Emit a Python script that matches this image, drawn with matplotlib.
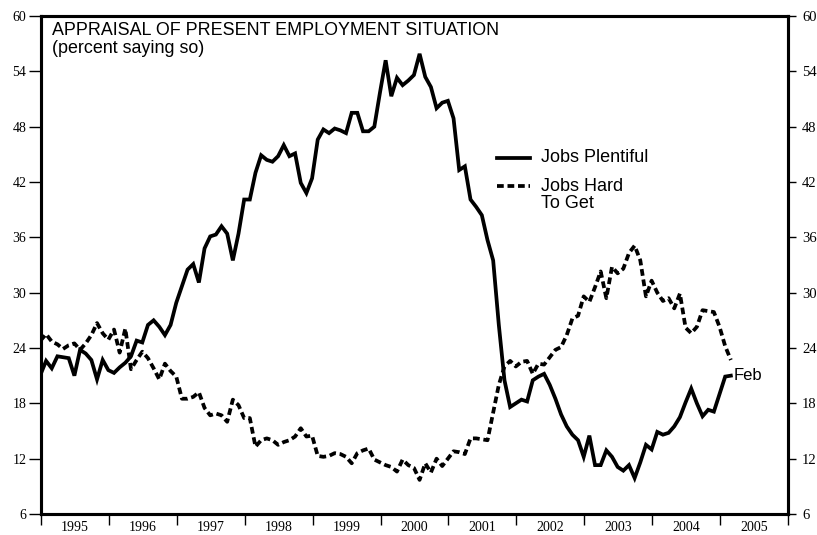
import numpy as np
import matplotlib.pyplot as plt

# monthly readings, Dec 1994 .. Feb 2005
jobs_plentiful = [
    21.1,
    22.6, 21.8, 23.1, 23.0, 22.9, 21.0, 23.8, 23.4, 22.7, 20.6, 22.7, 21.6,  # 1995
    21.3, 21.9, 22.4, 23.1, 24.8, 24.6, 26.5, 27.0, 26.3, 25.4, 26.5, 28.9,  # 1996
    30.7, 32.5, 33.1, 31.1, 34.8, 36.1, 36.3, 37.2, 36.4, 33.5, 36.4, 40.1,  # 1997
    40.1, 43.0, 44.9, 44.4, 44.2, 44.8, 46.0, 44.8, 45.1, 41.9, 40.8, 42.4,  # 1998
    46.6, 47.7, 47.3, 47.8, 47.6, 47.3, 49.5, 49.5, 47.5, 47.5, 48.0, 51.7,  # 1999
    55.2, 51.3, 53.3, 52.5, 53.0, 53.6, 55.9, 53.4, 52.3, 50.0, 50.6, 50.8,  # 2000
    48.9, 43.3, 43.7, 40.1, 39.3, 38.4, 35.7, 33.5, 26.5, 20.5, 17.6, 18.0,  # 2001
    18.4, 18.2, 20.5, 20.9, 21.2, 20.0, 18.5, 16.8, 15.5, 14.6, 14.0, 12.2,  # 2002
    14.5, 11.3, 11.3, 12.9, 12.2, 11.1, 10.7, 11.3, 9.9, 11.6, 13.5, 13.0,   # 2003
    14.9, 14.6, 14.8, 15.5, 16.5, 18.1, 19.6, 18.0, 16.6, 17.3, 17.1, 19.0,  # 2004
    20.9, 21.0,                                                              # 2005
]

jobs_hard = [
    24.8,
    25.5, 24.7, 24.4, 23.9, 24.3, 24.5, 23.8, 24.5, 25.4, 26.7, 25.6, 24.9,  # 1995
    26.0, 23.5, 26.1, 21.7, 22.7, 23.6, 22.9, 21.8, 20.6, 22.3, 21.5, 20.9,  # 1996
    18.5, 18.5, 18.7, 19.2, 17.5, 16.7, 16.9, 16.7, 16.0, 18.4, 17.8, 16.4,  # 1997
    16.4, 13.3, 14.0, 14.2, 14.0, 13.5, 13.8, 14.0, 14.4, 15.3, 14.4, 14.5,  # 1998
    12.3, 12.2, 12.3, 12.6, 12.5, 12.2, 11.5, 12.6, 12.9, 13.1, 11.9, 11.6,  # 1999
    11.3, 11.1, 10.6, 11.9, 11.3, 11.0, 9.7, 11.5, 10.5, 12.0, 11.2, 12.0,   # 2000
    12.8, 12.7, 12.5, 14.2, 14.2, 14.1, 14.0, 17.0, 20.0, 22.0, 22.6, 22.0,  # 2001
    22.5, 22.6, 21.2, 22.3, 22.2, 23.0, 23.8, 24.1, 25.4, 27.2, 27.5, 29.6,  # 2002
    29.0, 30.6, 32.3, 29.4, 32.8, 32.1, 32.6, 34.3, 35.1, 33.5, 29.6, 31.3,  # 2003
    30.0, 29.1, 29.4, 28.3, 29.9, 26.2, 25.6, 26.3, 28.1, 28.0, 27.9, 26.3,  # 2004
    24.2, 22.7,                                                              # 2005
]

year_labels = list(range(1995, 2006))
yticks = list(range(6, 61, 6))

# month index -1 = Dec 1994, points drawn near the end of each month
months = np.arange(-1, len(jobs_plentiful) - 1)
t = 1995 + (months + 0.9) / 12

serif = 'Liberation Serif'
sans = 'Liberation Sans'

fig = plt.figure(figsize=(8.17, 5.35), dpi=100)
ax = fig.add_axes([41 / 817, 21 / 535, 747 / 817, 498 / 535])

ax.plot(t, jobs_plentiful, color='black', lw=2.7, solid_joinstyle='miter')
ax.plot(t, jobs_hard, color='black', lw=2.7, dashes=(1.8, 1.0))

ax.set_xlim(1995, 2006)
ax.set_ylim(6, 60)

for s in ax.spines.values():
    s.set_linewidth(2.2)

ax.set_yticks(yticks)
ax.set_yticklabels([str(v) for v in yticks], fontfamily=serif, fontsize=10)
ax.tick_params(axis='y', direction='out', length=8.5, width=1, pad=2)

ax.set_xticks(year_labels + [2006])
ax.set_xticklabels([])
ax.set_xticks([y + 0.5 for y in year_labels], minor=True)
ax.set_xticklabels([str(y) for y in year_labels], minor=True,
                   fontfamily=serif, fontsize=10)
ax.tick_params(axis='x', which='major', direction='out', length=8, width=1)
ax.tick_params(axis='x', which='minor', length=0, pad=5)

ax2 = ax.twinx()
ax2.set_ylim(6, 60)
ax2.set_yticks(yticks)
ax2.set_yticklabels([str(v) for v in yticks], fontfamily=serif, fontsize=10.5)
ax2.tick_params(axis='y', direction='out', length=6, width=1, pad=4)
for s in ax2.spines.values():
    s.set_linewidth(2.2)

ax.text(0.0147, 0.988, 'APPRAISAL OF PRESENT EMPLOYMENT SITUATION\n(percent saying so)',
        transform=ax.transAxes, ha='left', va='top', fontfamily=sans,
        fontsize=12.9, linespacing=1.1)

ax.annotate('Feb', xy=(t[-1], jobs_plentiful[-1]), xytext=(2, 0),
            textcoords='offset points', ha='left', va='center',
            fontfamily=sans, fontsize=12)

# legend drawn by hand so the dashed key sits on the first label line
ax.plot([0.6104, 0.6546], [0.7149, 0.7149], transform=ax.transAxes,
        color='black', lw=2.7)
ax.plot([0.6104, 0.6546], [0.6586, 0.6586], transform=ax.transAxes,
        color='black', lw=2.7, dashes=(1.8, 1.0))
ax.text(0.6693, 0.7149, 'Jobs Plentiful', transform=ax.transAxes,
        ha='left', va='center', fontfamily=sans, fontsize=13)
ax.text(0.6693, 0.6586, 'Jobs Hard', transform=ax.transAxes,
        ha='left', va='center', fontfamily=sans, fontsize=13)
ax.text(0.6693, 0.6225, 'To Get', transform=ax.transAxes,
        ha='left', va='center', fontfamily=sans, fontsize=13)

fig.savefig('out.png', dpi=100)
